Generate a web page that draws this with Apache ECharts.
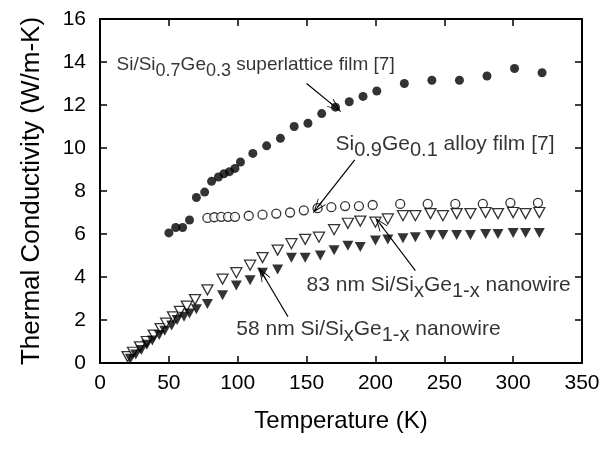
<!DOCTYPE html>
<html><head><meta charset="utf-8">
<script src="https://cdn.jsdelivr.net/npm/echarts@6/dist/echarts.min.js"></script>
<style>html,body{margin:0;padding:0;background:#fff}#c{width:607px;height:450px}</style>
</head><body><div id="c"></div>
<script>
// Si/Si0.7Ge0.3 superlattice film (filled circles)
var slT = [50,55,60,65,70,76,81,86,90,94,98,102,111,121,131,141,151,161,171,181,191,201,221,241,261,281,301,321];
var slK = [6.05,6.3,6.3,6.65,7.7,7.95,8.45,8.65,8.8,8.9,9.05,9.35,9.75,10.1,10.45,11.0,11.15,11.6,11.9,12.15,12.4,12.65,13.0,13.15,13.15,13.35,13.7,13.5];
// Si0.9Ge0.1 alloy film (open circles)
var alT = [78,83,88,93,98,108,118,128,138,148,158,168,178,188,198,218,238,258,278,298,318];
var alK = [6.75,6.78,6.8,6.8,6.8,6.85,6.9,6.95,7.0,7.1,7.2,7.25,7.3,7.3,7.35,7.4,7.4,7.4,7.4,7.45,7.45];
// 83 nm nanowire (open triangles)
var n83T = [20,24,29,34,39,44,48,53,58,63,69,78,89,99,109,118,129,139,149,159,170,180,189,200,209,220,229,240,249,259,269,280,289,300,309,319];
var n83K = [0.3,0.5,0.75,1.0,1.3,1.6,1.85,2.15,2.4,2.65,2.95,3.4,3.9,4.2,4.55,4.9,5.25,5.55,5.75,5.85,6.2,6.5,6.6,6.55,6.7,6.85,6.85,6.95,6.85,6.95,6.95,7.0,6.95,7.0,6.95,7.0];
// 58 nm nanowire (filled triangles)
var n58T = [22,26,30,34,38,43,47,52,56,61,65,70,78,89,99,109,118,129,139,149,160,170,180,189,200,209,220,229,240,249,259,269,280,289,300,309,319];
var n58K = [0.2,0.4,0.6,0.85,1.05,1.3,1.5,1.75,2.0,2.15,2.3,2.5,2.75,3.15,3.6,3.85,4.2,4.35,4.9,4.9,5.0,5.25,5.45,5.4,5.7,5.75,5.8,5.85,5.95,5.95,5.95,5.95,6.0,6.0,6.05,6.05,6.05];

var xTicks = [0,50,100,150,200,250,300,350];
var yTicks = [0,2,4,6,8,10,12,14,16];

function zip(a,b){return a.map(function(v,i){return [v,b[i]];});}

var FONT = 'Liberation Sans';
var INK = '#000';
var chev = 'path://M0,0 L6,14 L5,14 L0,3 L-5,14 L-6,14 Z M-0.5,0 L0.5,0 L0.5,14 L-0.5,14 Z';
var tri = 'path://M0,0 L10,0 L5,9 Z';

var rich = {
  n:{fontFamily:FONT,fontSize:19,color:INK,verticalAlign:'bottom',lineHeight:24},
  s:{fontFamily:FONT,fontSize:18,color:INK,verticalAlign:'bottom',lineHeight:24,padding:[0,0,-6,0]},
  N:{fontFamily:FONT,fontSize:21,color:INK,verticalAlign:'bottom',lineHeight:26},
  S:{fontFamily:FONT,fontSize:20,color:INK,verticalAlign:'bottom',lineHeight:26,padding:[0,0,-6,0]}
};
var notes = [
  {value:[12,14.0], text:'{n|Si/Si}{s|0.7}{n|Ge}{s|0.3}{n| superlattice film [7]}'},
  {value:[171,10.3], text:'{N|Si}{S|0.9}{N|Ge}{S|0.1}{N| alloy film [7]}'},
  {value:[150,3.75], text:'{N|83 nm Si/Si}{S|x}{N|Ge}{S|1-x}{N| nanowire}'},
  {value:[99,1.7], text:'{N|58 nm Si/Si}{S|x}{N|Ge}{S|1-x}{N| nanowire}'}
];
var arrows = [
  [[150,13.0],[171,11.9]],
  [[185,9.45],[158,7.25]],
  [[229,4.3],[203,6.5]],
  [[136.5,2.15],[118,4.15]]
];

function mkAxis(type, max, interval, position, extra){
  var o = {type:type, min:0, max:max, interval:interval, position:position, show:true,
    axisLine:{show:true,onZero:false,lineStyle:{color:INK,width:2}},
    axisTick:{show:true,inside:true,length:7,lineStyle:{color:INK,width:1.5}},
    splitLine:{show:false}};
  for (var k in extra) o[k]=extra[k];
  return o;
}
var chart = echarts.init(document.getElementById('c'));
chart.setOption({
  animation:false,
  backgroundColor:'#fff',
  grid:{left:100,right:25,top:19,bottom:87},
  xAxis:[
    mkAxis('value',350,50,'bottom',{
      name:'Temperature (K)',nameLocation:'middle',nameGap:46,
      nameTextStyle:{fontFamily:FONT,fontSize:24,color:INK},
      axisLabel:{fontFamily:FONT,fontSize:21,color:INK,margin:10}}),
    mkAxis('value',350,50,'top',{axisLabel:{show:false}})
  ],
  yAxis:[
    mkAxis('value',16,2,'left',{
      name:'Thermal Conductivity (W/m-K)',nameLocation:'middle',nameGap:55,
      nameTextStyle:{fontFamily:FONT,fontSize:26,color:INK},
      axisLabel:{fontFamily:FONT,fontSize:21,color:INK,margin:14}}),
    mkAxis('value',16,2,'right',{axisLabel:{show:false}})
  ],
  series:[
    {type:'scatter',data:zip(slT,slK),symbol:'circle',symbolSize:9,itemStyle:{color:INK}},
    {type:'scatter',data:zip(alT,alK),symbol:'circle',symbolSize:9,itemStyle:{color:'#fff',borderColor:INK,borderWidth:1.3}},
    {type:'scatter',data:zip(n83T,n83K),symbol:tri,symbolSize:[11,10],itemStyle:{color:'#fff',borderColor:INK,borderWidth:1.3}},
    {type:'scatter',data:zip(n58T,n58K),symbol:tri,symbolSize:[11,10],itemStyle:{color:INK}},
    {type:'scatter',data:notes.map(function(d){return {value:d.value,label:{formatter:d.text}};}),
      symbolSize:0,silent:true,
      label:{show:true,position:'right',distance:0,color:INK,textBorderWidth:0,rich:rich},
      markLine:{silent:true,symbol:['none',chev],symbolSize:[10,14],
        lineStyle:{color:INK,width:1.2,type:'solid'},label:{show:false},
        data:arrows.map(function(a){return [{coord:a[0]},{coord:a[1]}];})}
    },
    {type:'scatter',xAxisIndex:1,yAxisIndex:1,data:[[0,0]],symbolSize:0,silent:true}
  ]
});
</script></body></html>
